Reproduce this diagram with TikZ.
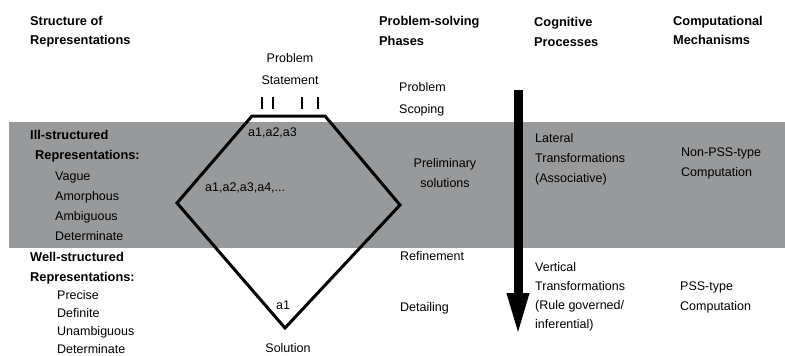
\documentclass[tikz,border=0pt]{standalone}
\usepackage{fontspec}
\setmainfont{Liberation Sans}
\usepackage{xcolor}
\usepackage{tikz}
\usetikzlibrary{positioning,arrows.meta}
\definecolor{bandgray}{RGB}{152,153,154}

\begin{document}
\begin{tikzpicture}[x=1pt,y=-1pt,
    txt/.style={inner sep=0pt,align=left,anchor=west,font=\fontsize{12.5}{20}\selectfont},
    hdr/.style={txt,font=\fontsize{12.8}{19.5}\selectfont\bfseries},
    ctr/.style={txt,align=center,anchor=center}]
    \useasboundingbox (0,0) rectangle (785,356);
    \clip (0,0) rectangle (785,356);
    \fill [bandgray] (9,122) rectangle (785,248);

    % column headers
    \node [hdr] (structhdr) at (30,31.5) {Structure of\\Representations};
    \node [hdr] (phasehdr) at (379,31) {Problem-solving\\Phases};
    \node [hdr] (coghdr) at (534,32) {Cognitive\\Processes};
    \node [hdr] (comphdr) at (673,30.5) {Computational\\Mechanisms};

    % representations
    \node [hdr] (illhdr) at (30,146) {Ill-structured\\\hspace{5pt}Representations:};
    \node [txt] (illitems) at (55,206) {Vague\\Amorphous\\Ambiguous\\Determinate};
    \node [hdr] (wellhdr) at (30,268) {Well-structured\\Representations:};
    \node [txt,font=\fontsize{12.5}{18}\selectfont] (wellitems) at (57,322) {Precise\\Definite\\Unambiguous\\Determinate};

    % problem space
    \node [ctr,font=\fontsize{12.5}{22}\selectfont] (stmt) at (290,69) {Problem\\Statement};
    \foreach \x in {262,273,302,318}
        \draw [line width=2pt] (\x,97) -- (\x,109);
    \draw [line width=3pt] (252,116) -- (325,116) -- (400,205) -- (285,328) -- (177,203) -- cycle;
    \node [txt] (alt3) at (248,133) {a1,a2,a3};
    \node [txt] (altn) at (205,188) {a1,a2,a3,a4,...};
    \node [ctr] (alt1) at (283,305) {a1};
    \node [ctr] (sol) at (288,348.5) {Solution};

    % phases
    \node [txt,font=\fontsize{12.5}{22}\selectfont] (scoping) at (399,99) {Problem\\Scoping};
    \node [ctr] (prelim) at (445,173) {Preliminary\\solutions};
    \node [txt] (refine) at (400,256) {Refinement};
    \node [txt] (detail) at (400,308) {Detailing};

    \coordinate (arrtop) at (518,90);
    \coordinate (arrtip) at (518,336);
    \draw [line width=9pt,-{Triangle[length=43pt,width=20pt]}] (arrtop) -- (arrtip);

    % cognitive processes
    \node [txt] (lateral) at (535,159) {Lateral\\Transformations\\(Associative)};
    \node [txt,font=\fontsize{12.5}{19}\selectfont] (vertical) at (535,296.5) {Vertical\\Transformations\\(Rule governed/\\inferential)};

    % computational mechanisms
    \node [txt] (nonpss) at (681,163) {Non-PSS-type\\Computation};
    \node [txt] (pss) at (680,297) {PSS-type\\Computation};
\end{tikzpicture}
\end{document}
